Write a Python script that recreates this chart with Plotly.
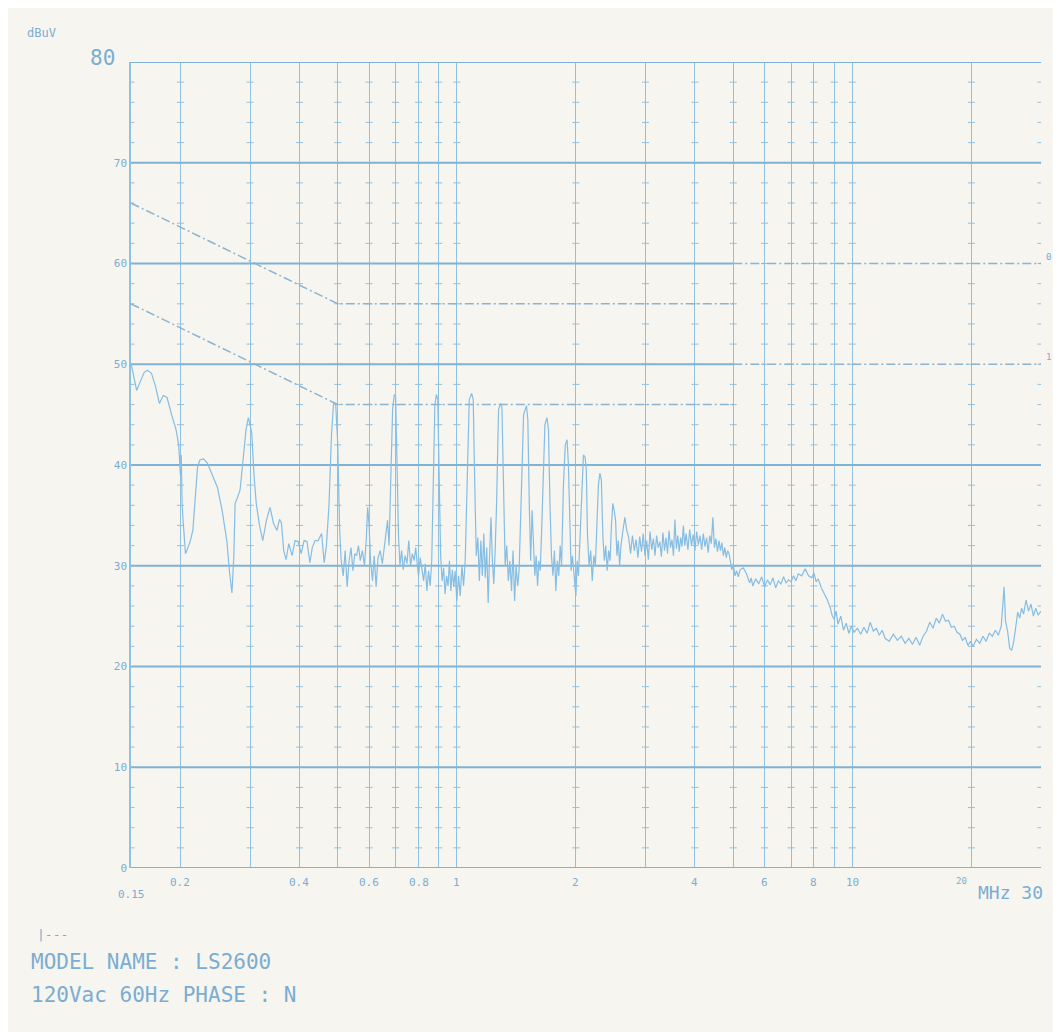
import numpy as np
import plotly.graph_objects as go

freq_mhz = [
    0.150, 0.153, 0.155, 0.158, 0.162, 0.165, 0.169, 0.173, 0.177, 0.181, 0.185, 0.190, 0.195, 0.198,
    0.200, 0.201, 0.202, 0.204, 0.206, 0.209, 0.212, 0.215, 0.218, 0.221, 0.224, 0.229, 0.234, 0.241,
    0.248, 0.255, 0.262, 0.266, 0.270, 0.273, 0.275, 0.279, 0.283, 0.288, 0.293, 0.297, 0.300, 0.303,
    0.307, 0.311, 0.317, 0.323, 0.330, 0.337, 0.344, 0.351, 0.356, 0.360, 0.365, 0.370, 0.376, 0.383,
    0.390, 0.397, 0.404, 0.411, 0.418, 0.425, 0.431, 0.438, 0.446, 0.455, 0.462, 0.468, 0.475, 0.482,
    0.488, 0.494,
    0.500, 0.505, 0.510, 0.516, 0.522, 0.528, 0.534, 0.540, 0.546, 0.552, 0.558, 0.564, 0.570, 0.577,
    0.584, 0.590, 0.595, 0.600, 0.605, 0.612, 0.618, 0.625, 0.632, 0.640, 0.648, 0.655, 0.662, 0.668,
    0.674, 0.680, 0.688, 0.695, 0.700, 0.706, 0.712, 0.718, 0.725, 0.732, 0.740, 0.748, 0.756, 0.764,
    0.772, 0.780, 0.787, 0.794, 0.800, 0.808, 0.816, 0.824, 0.832, 0.840, 0.848, 0.856, 0.864, 0.872,
    0.880, 0.888, 0.895, 0.902, 0.910, 0.918, 0.926, 0.934, 0.942, 0.950, 0.958, 0.966, 0.974, 0.982,
    0.990, 1.000, 1.010, 1.020, 1.030, 1.040, 1.050, 1.060, 1.075, 1.090, 1.100, 1.110, 1.120, 1.130,
    1.140, 1.150, 1.160, 1.170, 1.180, 1.190, 1.200, 1.210, 1.220, 1.230, 1.240, 1.250, 1.260, 1.275,
    1.290, 1.300, 1.312, 1.325, 1.337, 1.350, 1.362, 1.375, 1.387, 1.400, 1.412, 1.425, 1.437, 1.450,
    1.475, 1.500, 1.512, 1.525, 1.537, 1.550, 1.562, 1.575, 1.587, 1.600, 1.612, 1.625, 1.637, 1.650,
    1.670, 1.690, 1.705, 1.720, 1.735, 1.750, 1.765, 1.780, 1.795, 1.810, 1.825, 1.840, 1.860, 1.880,
    1.900, 1.915, 1.930, 1.945, 1.960, 1.980, 2.000, 2.015, 2.030, 2.050, 2.070, 2.090, 2.110, 2.125,
    2.140, 2.160, 2.180, 2.200, 2.220, 2.240, 2.260, 2.280, 2.300, 2.320, 2.340, 2.360, 2.380, 2.400,
    2.420, 2.440, 2.460, 2.480, 2.500, 2.520, 2.540, 2.560, 2.580, 2.600, 2.630, 2.660, 2.690,
    2.72, 2.75, 2.78, 2.81, 2.84, 2.87, 2.90, 2.93, 2.96, 2.99, 3.02, 3.05, 3.08, 3.11, 3.14, 3.17,
    3.20, 3.23, 3.26, 3.29, 3.32, 3.35, 3.38, 3.41, 3.44, 3.47, 3.50, 3.53, 3.56, 3.59, 3.62, 3.65,
    3.68, 3.71, 3.74, 3.77, 3.80, 3.84, 3.88, 3.92, 3.96, 4.00, 4.04, 4.08, 4.12, 4.16, 4.20, 4.24,
    4.28, 4.32, 4.36, 4.40, 4.44, 4.48, 4.52, 4.56, 4.60, 4.64, 4.68, 4.72, 4.76, 4.80, 4.84, 4.88,
    4.92, 4.96, 5.00, 5.05, 5.10, 5.15, 5.20, 5.30, 5.40, 5.50, 5.55, 5.60, 5.70, 5.80, 5.90, 6.00,
    6.10, 6.20, 6.30, 6.40, 6.50, 6.60, 6.70, 6.80, 6.90, 7.00, 7.10, 7.20, 7.30, 7.45, 7.60, 7.75,
    7.90, 8.00, 8.10, 8.20, 8.35, 8.50, 8.65, 8.80, 8.90, 9.00, 9.10, 9.20, 9.35, 9.50, 9.65, 9.80,
    9.95, 10.1, 10.3, 10.5, 10.7, 10.9, 11.1, 11.3, 11.5, 11.7, 11.9, 12.1, 12.4, 12.7, 13.0, 13.3,
    13.6, 13.9, 14.2, 14.5, 14.8, 15.1, 15.4, 15.7, 16.0, 16.3, 16.6, 16.9, 17.2, 17.5, 17.8, 18.1,
    18.4, 18.7, 19.0, 19.3, 19.6, 19.9, 20.2, 20.6, 21.0, 21.4, 21.8, 22.2, 22.6, 23.0, 23.4, 23.8,
    24.0, 24.2, 24.4, 24.7, 25.0, 25.3, 25.6, 25.9, 26.2, 26.5, 26.8, 27.1, 27.5, 27.9, 28.3, 28.7,
    29.1, 29.5, 30.0,
]
level_dbuv = [
    50.1, 48.5, 47.4, 48.2, 49.2, 49.4, 49.1, 47.8, 46.1, 46.9, 46.7, 45.0, 43.5, 42.0,
    39.0, 41.0, 36.0, 33.5, 31.2, 31.8, 32.5, 33.5, 37.0, 39.8, 40.5, 40.6, 40.2, 39.0,
    37.8, 35.5, 32.5, 29.5, 27.3, 31.0, 36.2, 36.8, 37.5, 40.5, 43.5, 44.7, 43.8, 43.2,
    39.0, 36.2, 34.0, 32.5, 34.5, 35.8, 34.2, 33.5, 34.6, 34.3, 31.5, 30.6, 32.2, 31.0,
    32.5, 32.4, 31.2, 32.5, 32.4, 30.3, 31.8, 32.5, 32.5, 33.2, 30.3, 32.0, 36.0, 43.0,
    46.2, 46.0,
    42.0, 34.0, 30.5, 29.0, 31.5, 27.9, 30.5, 31.8, 29.5, 31.2, 31.0, 32.0, 30.5, 31.5,
    30.0, 32.5, 35.8, 34.0, 30.5, 28.5, 31.0, 27.9, 30.8, 31.5, 30.2, 31.8, 33.5, 34.5,
    32.0, 38.0, 45.5, 47.0, 46.8, 40.0, 33.0, 30.0, 31.5, 29.6, 31.0, 30.2, 32.5, 30.0,
    31.2, 30.5, 31.8, 30.2, 29.0, 30.8, 29.6, 28.5, 30.2, 27.5, 29.5, 28.0, 30.5, 38.0,
    46.0, 47.0, 46.5, 39.0, 31.0, 28.5, 29.8, 27.2, 29.0, 28.0, 30.5, 27.5, 29.6, 27.9,
    29.5, 26.5, 29.0, 27.0, 30.0, 28.0, 30.5, 37.0, 46.5, 47.1, 46.5, 38.0, 31.0, 32.8,
    28.5, 32.5, 29.0, 33.2, 28.8, 31.8, 26.3, 31.0, 34.8, 30.5, 28.2, 31.5, 36.0, 45.5,
    46.1, 45.8, 37.0, 30.0, 32.0, 28.5, 30.5, 27.5, 31.5, 26.5, 30.0, 28.0, 29.5, 35.5,
    45.0, 45.9, 44.5, 36.0, 30.5, 35.5, 32.0, 29.0, 31.0, 28.0, 30.5, 29.5, 33.0, 37.0,
    44.0, 44.7, 43.5, 36.0, 31.0, 29.0, 31.5, 27.5, 30.5, 29.0, 32.0, 30.0, 38.0, 42.0,
    42.5, 40.0, 33.0, 29.5, 31.0, 28.5, 27.0, 30.5, 29.0, 33.0, 38.0, 41.0, 40.8, 39.5,
    33.0, 30.0, 31.5, 28.5, 31.0, 30.0, 34.0, 38.0, 39.2, 38.5, 33.0, 30.5, 32.0, 29.5,
    31.5, 30.5, 34.0, 36.2, 35.5, 34.5, 31.0, 32.5, 30.0, 32.0, 33.5, 34.8, 33.5,
    32.8, 31.2, 33.0, 31.5, 32.6, 30.8, 32.9, 31.4, 33.2, 31.0, 32.5, 30.6, 33.4, 31.6, 32.7, 31.0,
    33.0, 31.8, 32.4, 30.9, 33.3, 31.5, 32.8, 31.2, 33.5, 31.8, 32.6, 31.0, 34.6, 31.7, 33.0, 31.4,
    32.8, 31.9, 34.0, 32.0, 33.2, 31.6, 33.6, 32.0, 33.1, 31.5, 33.4, 32.1, 33.0, 31.6, 33.2, 31.9,
    32.8, 31.3, 33.0, 32.2, 34.8, 31.8, 32.7, 31.4, 32.5, 31.5, 32.3, 31.0, 31.8, 30.8, 31.5, 31.2,
    30.5, 29.6, 30.2, 29.0, 29.5, 28.9, 29.6, 29.8, 29.2, 28.3, 28.8, 28.0, 28.7, 28.2, 28.9, 27.9,
    28.6, 28.1, 28.8, 27.8, 28.5, 28.2, 28.9, 28.3, 28.6, 28.4, 29.0, 28.5, 29.2, 29.0, 29.7, 29.0,
    28.8, 29.3, 28.4, 28.7, 27.8, 27.2, 26.6, 25.8, 25.0, 24.7, 25.5, 24.2, 25.0, 23.6, 24.3, 23.3,
    24.0, 23.4, 23.8, 23.2, 23.9, 23.3, 24.4, 23.5, 23.8, 23.1, 23.6, 22.8, 22.5, 23.2, 22.6, 23.0,
    22.3, 22.8, 22.2, 22.9, 22.1, 23.0, 23.5, 24.4, 23.8, 24.8, 24.3, 25.2, 24.5, 24.6, 23.9, 24.0,
    23.4, 23.2, 22.6, 22.9, 22.1, 22.5, 22.0, 22.7, 22.3, 23.0, 22.5, 23.3, 23.0, 23.6, 23.1, 24.0,
    26.0, 27.9, 24.5, 23.5, 21.8, 21.6, 22.5, 24.2, 25.4, 24.8, 25.8, 25.2, 26.6, 25.5, 26.2, 25.0,
    25.8, 25.1, 25.5,
]

# ---- Limit lines (EN55022 class B style) ----
qp_limit_freq = [0.15, 0.5, 5.0, None, 5.0, 30.0]
qp_limit_level = [66, 56, 56, None, 60, 60]
av_limit_freq = [0.15, 0.5, 5.0, None, 5.0, 30.0]
av_limit_level = [56, 46, 46, None, 50, 50]

# ---- Axes / grid ----
grid_freqs = [0.2, 0.3, 0.4, 0.5, 0.6, 0.7, 0.8, 0.9, 1, 2, 3, 4, 5, 6, 7, 8, 9, 10, 20, 30]
x_tick_vals = [0.2, 0.4, 0.6, 0.8, 1, 2, 4, 6, 8, 10]
x_tick_text = ["0.2", "0.4", "0.6", "0.8", "1", "2", "4", "6", "8", "10"]
y_tick_vals = [0, 10, 20, 30, 40, 50, 60, 70]
y_tick_text = ["0", "10", "20", "30", "40", "50", "60", "70"]
h_grid_levels = [0, 10, 20, 30, 40, 70, 80]
h_grid_partial = [50, 60]   # these stop where the 5 MHz limit steps up

F_MIN, F_MAX = 0.15, 30.0
GRID = "#7fb3d6"
GRID_V = "#92c1df"
TRACE = "#86bde2"
LIMIT = "#8cb3cf"
TEXT = "#7badd2"
BG = "#f6f5f0"
FONT = "DejaVu Sans Mono"

fig = go.Figure()

# vertical grid tick-marks (small dashes every 2 dB)
tick_levels = list(range(2, 80, 2))
tx, ty = [], []
for f in grid_freqs + [F_MIN]:
    for lv in tick_levels:
        tx.append(f)
        ty.append(lv)
fig.add_trace(go.Scatter(x=tx, y=ty, mode="markers", hoverinfo="skip", showlegend=False,
                         marker=dict(symbol="line-ew", size=5, line=dict(color=GRID_V, width=1))))

# horizontal grid lines
hx, hy = [], []
for lv in h_grid_levels:
    hx += [F_MIN, F_MAX, None]
    hy += [lv, lv, None]
for lv in h_grid_partial:
    hx += [F_MIN, 5.0, None]
    hy += [lv, lv, None]
fig.add_trace(go.Scatter(x=hx, y=hy, mode="lines", hoverinfo="skip", showlegend=False,
                         line=dict(color=GRID, width=2)))

# limit lines
fig.add_trace(go.Scatter(x=qp_limit_freq, y=qp_limit_level, mode="lines", showlegend=False,
                         line=dict(color=LIMIT, width=1.5, dash="9px,3px,2px,3px")))
fig.add_trace(go.Scatter(x=av_limit_freq, y=av_limit_level, mode="lines", showlegend=False,
                         line=dict(color=LIMIT, width=1.5, dash="9px,3px,2px,3px")))

# measured trace
fig.add_trace(go.Scatter(x=freq_mhz, y=level_dbuv, mode="lines", showlegend=False,
                         line=dict(color=TRACE, width=1.2)))

fig.update_xaxes(type="log", range=[np.log10(F_MIN), np.log10(F_MAX)],
                 tickvals=grid_freqs, showticklabels=False, ticks="",
                 showgrid=True, gridcolor=GRID_V, gridwidth=1, zeroline=False,
                 showline=False)
fig.update_yaxes(range=[0, 80], tickvals=y_tick_vals, ticktext=y_tick_text,
                 showgrid=False, zeroline=False, ticks="",
                 tickfont=dict(family=FONT, size=11, color=TEXT),
                 showline=True, linecolor=GRID_V, linewidth=1.5)

ann = []
for v, t in zip(x_tick_vals, x_tick_text):
    ann.append(dict(x=np.log10(v), y=0, xref="x", yref="y", text=t, showarrow=False,
                    yanchor="top", yshift=-6, font=dict(family=FONT, size=11, color=TEXT)))
ann.append(dict(x=np.log10(0.15), y=0, xref="x", yref="y", text="0.15", showarrow=False,
                xanchor="left", yanchor="top", yshift=-18, xshift=-15,
                font=dict(family=FONT, size=11, color=TEXT)))
ann.append(dict(x=np.log10(20), y=0, xref="x", yref="y", text="20", showarrow=False,
                xanchor="right", yanchor="top", yshift=-6, xshift=-2,
                font=dict(family=FONT, size=9, color=TEXT)))
ann.append(dict(x=np.log10(30), y=0, xref="x", yref="y", text="MHz 30", showarrow=False,
                xanchor="right", yanchor="top", yshift=-12, xshift=4,
                font=dict(family=FONT, size=18, color=TEXT)))
ann.append(dict(x=0, y=80, xref="paper", yref="y", text="80", showarrow=False,
                xanchor="right", yanchor="middle", xshift=-14, yshift=4,
                font=dict(family=FONT, size=21, color=TEXT)))
ann.append(dict(x=-0.117, y=1.036, xref="paper", yref="paper", text="dBuV", showarrow=False,
                xanchor="left", yanchor="middle", font=dict(family=FONT, size=12, color=TEXT)))
ann.append(dict(x=np.log10(30), y=60, xref="x", yref="y", text="0", showarrow=False,
                xanchor="left", yanchor="bottom", xshift=3, font=dict(family=FONT, size=9, color=TEXT)))
ann.append(dict(x=np.log10(30), y=50, xref="x", yref="y", text="1", showarrow=False,
                xanchor="left", yanchor="bottom", xshift=3, font=dict(family=FONT, size=9, color=TEXT)))
ann.append(dict(x=-0.106, y=-0.083, xref="paper", yref="paper", text="|---", showarrow=False,
                xanchor="left", yanchor="middle", font=dict(family=FONT, size=13, color=TEXT)))
ann.append(dict(x=-0.112, y=-0.1166, xref="paper", yref="paper", text="MODEL NAME : LS2600",
                showarrow=False, xanchor="left", yanchor="middle",
                font=dict(family=FONT, size=21, color=TEXT)))
ann.append(dict(x=-0.112, y=-0.1576, xref="paper", yref="paper", text="120Vac 60Hz PHASE : N",
                showarrow=False, xanchor="left", yanchor="middle",
                font=dict(family=FONT, size=21, color=TEXT)))

fig.update_layout(width=1061, height=1032, margin=dict(l=123, r=28, t=54, b=172),
                  paper_bgcolor=BG, plot_bgcolor=BG, annotations=ann, showlegend=False)

fig.write_html("out.html")
